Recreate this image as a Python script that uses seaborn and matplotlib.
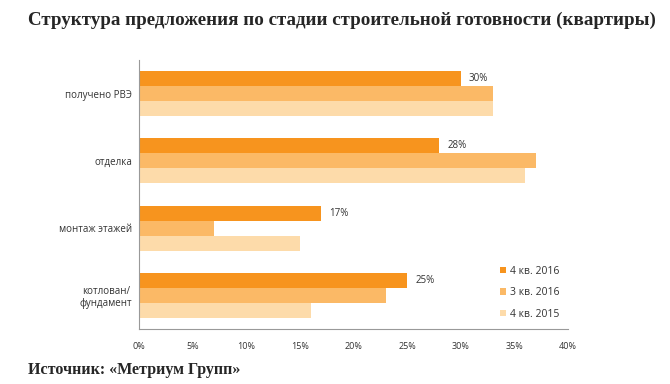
import pandas as pd
import numpy as np
import matplotlib
matplotlib.use("Agg")
import matplotlib.pyplot as plt
import seaborn as sns
from matplotlib.patches import Patch

# данные
stages = ["получено РВЭ", "отделка", "монтаж этажей", "котлован/\nфундамент"]
periods = ["4 кв. 2016", "3 кв. 2016", "4 кв. 2015"]
q4_2016 = [30, 28, 17, 25]
q3_2016 = [33, 37, 7, 23]
q4_2015 = [33, 36, 15, 16]
x_ticks = [0, 5, 10, 15, 20, 25, 30, 35, 40]
colors = ["#F7941E", "#FBB966", "#FDDBAA"]

df = pd.DataFrame({
    "stage": stages * 3,
    "period": [periods[0]] * 4 + [periods[1]] * 4 + [periods[2]] * 4,
    "value": q4_2016 + q3_2016 + q4_2015,
})

sns.set_style("white")
plt.rcParams["font.family"] = ["Open Sans", "DejaVu Sans"]

fig = plt.figure(figsize=(6.7, 3.84), dpi=100)
ax = fig.add_axes([0.2075, 0.1432, 0.6403, 0.7005])

sns.barplot(data=df, x="value", y="stage", hue="period", order=stages,
            hue_order=periods, palette=colors, orient="h", width=0.67,
            gap=0, saturation=1, legend=False, linewidth=0, ax=ax)

# подписи только для 4 кв. 2016
for bar, v in zip(ax.containers[0], q4_2016):
    y = bar.get_y() + bar.get_height() / 2
    ax.text(v + 0.75, y, f"{v}%", va="center", ha="left", fontsize=7, color="#333333")

ax.set_xlim(0, 40)
ax.set_ylim(3.5, -0.5)
ax.set_xticks(x_ticks)
ax.set_xticklabels([f"{t}%" for t in x_ticks], fontsize=6.5, color="#333333")
ax.set_yticks(range(len(stages)))
ax.set_yticklabels(stages, fontsize=7, color="#333333", multialignment="center")
ax.set_yticks(np.arange(-0.5, 4, 1), minor=True)
ax.tick_params(axis="y", which="major", length=0, pad=5)
ax.tick_params(axis="y", which="minor", length=3, color="#999999", direction="out")
ax.tick_params(axis="x", which="major", length=3, color="#999999", direction="out", pad=6)
ax.set_xlabel("")
ax.set_ylabel("")
for s in ["top", "right"]:
    ax.spines[s].set_visible(False)
for s in ["left", "bottom"]:
    ax.spines[s].set_color("#999999")
    ax.spines[s].set_linewidth(0.8)

handles = [Patch(facecolor=c, edgecolor="none") for c in colors]
ax.legend(handles, periods, loc="lower left", bbox_to_anchor=(0.82, 0.0),
          frameon=False, fontsize=7.5, handlelength=0.6, handleheight=0.6,
          handletextpad=0.3, labelspacing=1.0, labelcolor="#333333")

fig.text(0.042, 0.948, "Структура предложения по стадии строительной готовности (квартиры)",
         fontsize=13.7, fontweight="bold", family="Liberation Serif", va="center")
fig.text(0.042, 0.037, "Источник: «Метриум Групп»",
         fontsize=11.5, fontweight="bold", family="Liberation Serif", va="center")

fig.savefig("out.png", dpi=100)
